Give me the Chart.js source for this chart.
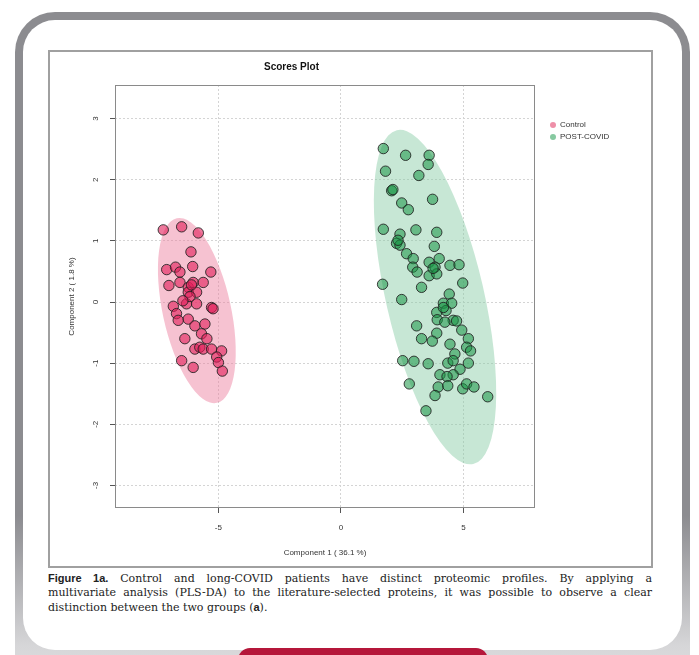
<!DOCTYPE html>
<html>
<head>
<meta charset="utf-8">
<title>Scores Plot</title>
<script src="https://cdn.jsdelivr.net/npm/chart.js@4.4.1/dist/chart.umd.min.js"></script>
<style>
    body {
        margin: 0;
        width: 699px;
        height: 655px;
        overflow: hidden;
        background: #fff;
        position: relative;
        font-family: 'Liberation Sans', Arial, sans-serif;
    }
    .card-frame {
        position: absolute;
        left: 15px;
        top: 12px;
        width: 675px;
        height: 720px;
        border-radius: 40px;
        background: linear-gradient(to bottom, #8c8c90 0%, #8c8c90 70%, #d6d6d8 88%, #efefef 100%);
    }
    .card {
        position: absolute;
        left: 8px;
        top: 8px;
        right: 8px;
        height: 630px;
        border-radius: 32px;
        background: #fff;
    }
    .figure {
        position: absolute;
        left: 48px;
        top: 50px;
        width: 605px;
        height: 518px;
    }
    .caption {
        position: absolute;
        left: 48px;
        top: 571px;
        width: 604px;
        font-family: 'DejaVu Serif', 'Liberation Serif', serif;
        font-size: 11px;
        line-height: 14px;
        color: #222;
        white-space: nowrap;
    }
    .caption div {
        text-align: justify;
        text-align-last: justify;
    }
    .caption div:last-child {
        text-align-last: left;
    }
    .caption b {
        font-family: 'Liberation Sans', Arial, sans-serif;
    }
    .button {
        position: absolute;
        left: 238px;
        top: 648px;
        width: 250px;
        height: 12px;
        background: #b5173a;
        border-radius: 12px 12px 0 0;
    }
</style>
</head>
<body>
<div class="card-frame"><div class="card"></div></div>
<div class="figure"><canvas id="scoresChart" width="605" height="518"></canvas></div>
<div class="caption">
    <div><b>Figure 1a.</b> Control and long-COVID patients have distinct proteomic profiles. By applying a</div>
    <div>multivariate analysis (PLS-DA) to the literature-selected proteins, it was possible to observe a clear</div>
    <div>distinction between the two groups (<b>a</b>).</div>
</div>
<div class="button"></div>

<script>
// PLS-DA scores: Component 1 (x) and Component 2 (y)
const controlX = [-7.25, -6.50, -5.82, -6.12, -7.11, -6.75, -6.57, -6.05, -5.31, -7.02, -6.57, -6.23, -6.03, -5.62,
    -6.23, -5.89, -6.84, -6.30, -5.89, -5.28, -6.71, -6.64, -6.23, -5.96, -5.55, -6.37, -5.69, -5.96, -5.76, -5.62,
    -5.28, -4.87, -5.07, -6.50, -6.03, -5.00, -4.84, -6.16, -6.45, -5.47, -5.22, -6.10];
const controlY = [1.18, 1.23, 1.13, 0.82, 0.53, 0.57, 0.49, 0.58, 0.49, 0.27, 0.32, 0.24, 0.32, 0.32,
    0.16, 0.16, -0.07, -0.03, -0.03, -0.09, -0.19, -0.30, -0.28, -0.39, -0.36, -0.60, -0.52, -0.77, -0.74, -0.77,
    -0.77, -0.80, -0.90, -0.96, -1.07, -0.99, -1.13, 0.09, 0.02, -0.60, -0.11, 0.28];

const postCovidX = [1.73, 2.64, 3.60, 3.56, 1.82, 3.18, 2.07, 2.12, 3.74, 2.48, 2.75, 1.73, 3.06, 3.91, 2.41,
    2.27, 2.41, 2.33, 3.81, 2.68, 2.95, 3.60, 4.01, 3.84, 4.45, 4.82, 2.93, 3.11, 3.60, 3.91, 3.76, 1.70, 3.29,
    4.97, 4.42, 2.48, 4.18, 4.52, 3.91, 4.29, 3.93, 4.58, 4.24, 3.09, 4.93, 3.91, 3.29, 3.73, 5.20, 4.45, 5.13,
    5.29, 4.65, 2.52, 2.98, 3.56, 4.36, 5.20, 4.58, 4.86, 4.04, 4.58, 4.33, 2.79, 3.97, 4.36, 4.97, 5.13, 5.43,
    3.84, 5.99, 3.47, 4.18, 4.72];
const postCovidY = [2.51, 2.40, 2.40, 2.25, 2.14, 2.07, 1.82, 1.84, 1.68, 1.62, 1.51, 1.19, 1.18, 1.14, 1.11,
    0.96, 0.93, 1.01, 0.91, 0.79, 0.71, 0.65, 0.71, 0.57, 0.60, 0.61, 0.57, 0.49, 0.43, 0.46, 0.55, 0.29, 0.24,
    0.31, 0.13, 0.04, -0.02, -0.02, -0.17, -0.14, -0.29, -0.30, -0.33, -0.39, -0.46, -0.51, -0.60, -0.64, -0.60,
    -0.69, -0.74, -0.80, -0.85, -0.96, -0.97, -1.01, -1.00, -1.00, -0.96, -1.10, -1.19, -1.19, -1.22, -1.34,
    -1.39, -1.37, -1.42, -1.34, -1.39, -1.53, -1.55, -1.78, -0.09, -0.31];

// 95% confidence regions: centre, half major axis, half minor axis (data units)
const controlEllipseCenter = [-5.88, -0.14];
const controlEllipseMajor = [0.82, -1.51];
const controlEllipseMinor = [1.36, 0.12];
const postCovidEllipseCenter = [3.84, 0.08];
const postCovidEllipseMajor = [1.56, -2.73];
const postCovidEllipseMinor = [1.95, 0.18];

const xTicks = [-5, 0, 5];
const yTicks = [-3, -2, -1, 0, 1, 2, 3];
const groupLabels = ['Control', 'POST-COVID'];

const colors = {
    controlPoint: 'rgba(226, 30, 90, 0.6)',
    controlArea: 'rgba(236, 128, 158, 0.48)',
    controlKey: '#ee8fa8',
    covidPoint: 'rgba(25, 150, 70, 0.55)',
    covidArea: 'rgba(138, 204, 168, 0.48)',
    covidKey: '#86c9a0',
    outline: 'rgba(30, 30, 30, 0.85)',
    grid: '#d4d4d4',
    text: '#333'
};

const toPoints = (xs, ys) => xs.map((x, i) => ({ x: x, y: ys[i] }));

const ellipses = [
    { center: controlEllipseCenter, major: controlEllipseMajor, minor: controlEllipseMinor, color: colors.controlArea },
    { center: postCovidEllipseCenter, major: postCovidEllipseMajor, minor: postCovidEllipseMinor, color: colors.covidArea }
];

// Outer figure frame
const framePlugin = {
    id: 'frame',
    beforeDraw(chart) {
        const ctx = chart.ctx;
        ctx.save();
        ctx.strokeStyle = '#a0a0a0';
        ctx.lineWidth = 2;
        ctx.strokeRect(1, 1, chart.width - 2, chart.height - 2);
        ctx.restore();
    }
};

// Confidence ellipses, drawn under the points
const ellipsePlugin = {
    id: 'ellipses',
    beforeDatasetsDraw(chart) {
        const { ctx, chartArea, scales: { x, y } } = chart;
        ctx.save();
        ctx.beginPath();
        ctx.rect(chartArea.left, chartArea.top, chartArea.right - chartArea.left, chartArea.bottom - chartArea.top);
        ctx.clip();
        ellipses.forEach(e => {
            const cx = x.getPixelForValue(e.center[0]);
            const cy = y.getPixelForValue(e.center[1]);
            const ax = x.getPixelForValue(e.center[0] + e.major[0]) - cx;
            const ay = y.getPixelForValue(e.center[1] + e.major[1]) - cy;
            const bx = x.getPixelForValue(e.center[0] + e.minor[0]) - cx;
            const by = y.getPixelForValue(e.center[1] + e.minor[1]) - cy;
            ctx.save();
            ctx.translate(cx, cy);
            ctx.transform(ax, ay, bx, by, 0, 0);
            ctx.beginPath();
            ctx.arc(0, 0, 1, 0, Math.PI * 2);
            ctx.restore();
            ctx.fillStyle = e.color;
            ctx.fill();
        });
        ctx.restore();
    },
    afterDatasetsDraw(chart) {
        // box around the plotting region
        const { ctx, chartArea } = chart;
        ctx.save();
        ctx.strokeStyle = '#8a8a8a';
        ctx.lineWidth = 1;
        ctx.strokeRect(chartArea.left + 0.5, chartArea.top + 0.5,
            chartArea.right - chartArea.left - 1, chartArea.bottom - chartArea.top - 1);
        ctx.restore();
    }
};

// Small legend to the right of the plot
const keyPlugin = {
    id: 'key',
    afterDraw(chart) {
        const { ctx, chartArea } = chart;
        const keyColors = [colors.controlKey, colors.covidKey];
        ctx.save();
        ctx.font = '8px "Liberation Sans", Arial, sans-serif';
        ctx.textBaseline = 'middle';
        groupLabels.forEach((label, i) => {
            const ky = chartArea.top + 40 + i * 12;
            ctx.fillStyle = keyColors[i];
            ctx.beginPath();
            ctx.arc(chartArea.right + 18, ky, 3, 0, Math.PI * 2);
            ctx.fill();
            ctx.fillStyle = colors.text;
            ctx.fillText(label, chartArea.right + 25, ky);
        });
        ctx.restore();
    }
};

const ctx = document.getElementById('scoresChart').getContext('2d');
new Chart(ctx, {
    type: 'scatter',
    data: {
        datasets: [{
            label: groupLabels[0],
            data: toPoints(controlX, controlY),
            backgroundColor: colors.controlPoint,
            borderColor: colors.outline,
            borderWidth: 1,
            pointRadius: 5.2
        }, {
            label: groupLabels[1],
            data: toPoints(postCovidX, postCovidY),
            backgroundColor: colors.covidPoint,
            borderColor: colors.outline,
            borderWidth: 1,
            pointRadius: 5.2
        }]
    },
    options: {
        responsive: false,
        animation: false,
        layout: {
            padding: { left: 0, right: 118, top: 0, bottom: 0 }
        },
        plugins: {
            legend: { display: false },
            tooltip: { enabled: false },
            title: {
                display: true,
                text: 'Scores Plot',
                color: '#111',
                font: { family: 'Liberation Sans, Arial, sans-serif', size: 10, weight: 'bold' },
                padding: { top: 11, bottom: 12 }
            }
        },
        scales: {
            x: {
                type: 'linear',
                min: -9.22,
                max: 7.92,
                afterBuildTicks: scale => { scale.ticks = xTicks.map(v => ({ value: v })); },
                afterFit: scale => { scale.height = 60; },
                grid: {
                    color: colors.grid,
                    tickColor: '#555',
                    tickLength: 5
                },
                border: { display: false, dash: [2, 2] },
                ticks: {
                    color: colors.text,
                    font: { family: 'Liberation Sans, Arial, sans-serif', size: 8 },
                    padding: 10,
                    maxRotation: 0
                },
                title: {
                    display: true,
                    text: 'Component 1 ( 36.1 %)',
                    color: colors.text,
                    font: { family: 'Liberation Sans, Arial, sans-serif', size: 8 },
                    padding: { top: 10, bottom: 10 }
                }
            },
            y: {
                type: 'linear',
                min: -3.37,
                max: 3.55,
                afterBuildTicks: scale => { scale.ticks = yTicks.map(v => ({ value: v })); },
                afterFit: scale => { scale.width = 67; },
                grid: {
                    color: colors.grid,
                    tickColor: '#555',
                    tickLength: 5
                },
                border: { display: false, dash: [2, 2] },
                ticks: {
                    color: colors.text,
                    font: { family: 'Liberation Sans, Arial, sans-serif', size: 8 },
                    padding: 11,
                    minRotation: 90,
                    maxRotation: 90,
                    crossAlign: 'center'
                },
                title: {
                    display: true,
                    text: 'Component 2 ( 1.8 %)',
                    color: colors.text,
                    font: { family: 'Liberation Sans, Arial, sans-serif', size: 8 },
                    padding: { top: 19, bottom: 19 }
                }
            }
        }
    },
    plugins: [framePlugin, ellipsePlugin, keyPlugin]
});
</script>
</body>
</html>
